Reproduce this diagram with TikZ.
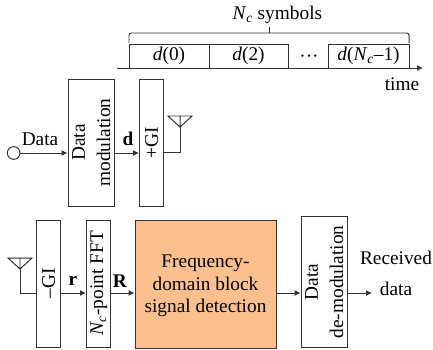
\documentclass[tikz,border=0pt]{standalone}
\usepackage{fontspec}
\setmainfont{Liberation Serif}
\usetikzlibrary{arrows.meta,positioning,calc}
\definecolor{Peach}{HTML}{FBC08E}
\definecolor{Edge}{HTML}{333333}
\newcommand{\Nc}{\textit{N}\textsubscript{\textit{c}}}

\begin{document}
\begin{tikzpicture}
    \tikzset{
      block/.style={draw=Edge,line width=0.85pt,inner sep=0pt,font=\fontsize{16.5}{21.5}\selectfont},
      tall/.style={block,rotate=90,align=center},
      symb/.style={block,minimum height=0.72cm},
      lbl/.style={inner sep=0pt,font=\fontsize{16.5}{19.2}\selectfont},
      wire/.style={draw=Edge,line width=0.85pt},
      flow/.style={wire,-{Latex[length=5pt,width=5pt]}}
    }
    \useasboundingbox (0,0) rectangle (12.99,10.47);

    % Symbol frame
    \foreach \x/\w/\id/\txt in {5.07/2.40/sa/\textit{d}(0),7.455/2.37/sb/\textit{d}(2),
                                11.055/2.43/sc/\textit{d}(\Nc--1)}{
      \node[symb,minimum width=\w cm] (\id) at (\x,8.79) {\txt};
    }
    \node[lbl,anchor=base] (dots) at (9.27,8.58) {\textperiodcentered\textperiodcentered\textperiodcentered};
    \coordinate (axstart) at (3.51,8.43);
    \coordinate (axend) at (12.69,8.43);
    \draw[flow] (axstart) -- (axend);
    \node[lbl] (timelbl) at (12.06,7.93) {time};
    \coordinate (brl) at (3.87,9.33);
    \coordinate (brr) at (12.27,9.33);
    \coordinate (brm) at (8.07,9.33);
    \draw[wire,rounded corners=2pt] ($(brl)+(0,-0.15)$) -- ($(brl)+(0,0.15)$) -- ($(brr)+(0,0.15)$) -- ($(brr)+(0,-0.15)$);
    \draw[wire] ($(brm)+(0,0.15)$) -- ++(0,0.18);
    \node[lbl] (symlbl) at (8.32,10.02) {\Nc{} symbols};

    % Transmitter
    \node[tall,minimum width=3.81cm,minimum height=1.395cm] (mod) at (2.74,6.195) {Data\\modulation};
    \node[tall,minimum width=3.81cm,minimum height=0.72cm] (addgi) at (4.545,6.195) {+GI};
    \node[circle,draw=Edge,line width=0.85pt,minimum size=0.38cm,inner sep=0pt] (src) at (0.41,5.88) {};
    \node[lbl] (datalbl) at (1.20,6.30) {Data};
    \node[lbl] (dlbl) at (3.84,6.30) {\textbf{d}};
    \draw[flow] (src.east) -- (src.east -| mod.north);
    \draw[flow] (src.east -| mod.south) -- (src.east -| addgi.north);
    \coordinate (txant) at (5.40,6.66);
    \draw[wire] (addgi.south |- 0,5.91) -| (txant);

    % Receiver
    \coordinate (rxant) at (0.60,2.40);
    \node[tall,minimum width=3.81cm,minimum height=0.735cm] (remgi) at (1.46,1.965) {--GI};
    \node[tall,minimum width=3.81cm,minimum height=0.735cm] (fft) at (2.96,1.965) {\Nc-point FFT};
    \node[block,fill=Peach,minimum width=4.23cm,minimum height=3.82cm] (det) at (6.165,1.94) {};
    \node[lbl,align=center] (detlbl) at ($(det.center)+(0,-0.05)$) {Frequency-\\domain block\\signal detection};
    \node[tall,minimum width=3.92cm,minimum height=1.395cm] (demod) at (9.73,2.01) {Data\\de-modulation};
    \coordinate (rxout) at (11.16,1.68);
    \node[lbl] (rlbl) at (2.19,2.04) {\textbf{r}};
    \node[lbl] (Rlbl) at (3.60,2.04) {\textbf{R}};
    \node[lbl] (recvlbl) at (11.88,2.73) {Received};
    \node[lbl] (recvdata) at (11.88,1.80) {data};
    \draw[wire] (rxant) |- (rxout -| remgi.north);
    \draw[flow] (rxout -| remgi.south) -- (rxout -| fft.north);
    \draw[flow] (rxout -| fft.south) -- (rxout -| det.west);
    \draw[flow] (rxout -| det.east) -- (rxout -| demod.north);
    \draw[flow] (rxout -| demod.south) -- (rxout);

    % Antennas
    \foreach \ant in {txant,rxant}{
      \draw[wire] (\ant) -- ++(0,0.33) -- ++(-0.36,0) -- (\ant) -- ($(\ant)+(0.36,0.33)$) -- ++(-0.36,0);
    }
\end{tikzpicture}
\end{document}
